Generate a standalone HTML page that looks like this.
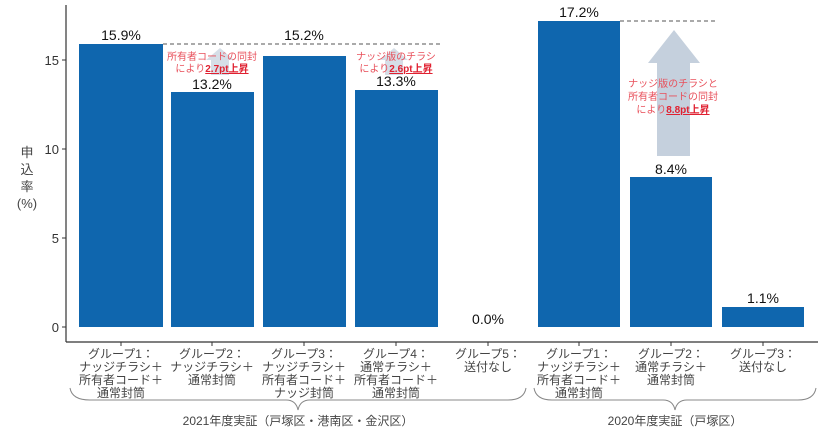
<!DOCTYPE html>
<html><head><meta charset="utf-8"><style>
body{margin:0;background:#fff;}
svg{display:block;font-family:"Liberation Sans","Noto Sans CJK JP",sans-serif;}
</style></head><body>
<svg width="824" height="428" viewBox="0 0 824 428">
<line x1="66" y1="5" x2="66" y2="342" stroke="#333" stroke-width="1.2"/>
<line x1="66" y1="342" x2="818" y2="342" stroke="#333" stroke-width="1.2"/>
<g stroke="#333"><line x1="62" y1="60" x2="66" y2="60"/><line x1="62" y1="149" x2="66" y2="149"/><line x1="62" y1="238" x2="66" y2="238"/><line x1="62" y1="327" x2="66" y2="327"/>
<line x1="121" y1="342" x2="121" y2="346"/><line x1="212" y1="342" x2="212" y2="346"/><line x1="304" y1="342" x2="304" y2="346"/><line x1="396" y1="342" x2="396" y2="346"/><line x1="488" y1="342" x2="488" y2="346"/><line x1="579" y1="342" x2="579" y2="346"/><line x1="671" y1="342" x2="671" y2="346"/><line x1="763" y1="342" x2="763" y2="346"/></g>
<g font-size="13" fill="#333" text-anchor="end"><text x="59" y="65">15</text><text x="59" y="154">10</text><text x="59" y="243">5</text><text x="59" y="332">0</text></g>
<g font-size="13" fill="#444" text-anchor="middle"><text x="27" y="157">申</text><text x="27" y="174">込</text><text x="27" y="191">率</text><text x="27" y="208">(%)</text></g>
<g fill="#c5d0dd" opacity="0.7"><polygon points="206,60 220,48 234,60 229,60 229,75 211,75 211,60"/><polygon points="380,60 394,48 408,60 403,60 403,75 385,75 385,60"/></g>
<polygon points="648,63 674,30 700,63 690,63 690,156 657,156 657,63" fill="#c5d0dd"/>
<g fill="#0f66ae">
<rect x="79" y="44" width="84" height="283"/>
<rect x="171" y="92" width="83" height="235"/>
<rect x="263" y="56" width="83" height="271"/>
<rect x="355" y="90" width="83" height="237"/>
<rect x="538" y="21" width="82" height="306"/>
<rect x="630" y="177" width="82" height="150"/>
<rect x="722" y="307" width="82" height="20"/>
</g>
<g stroke="#555" stroke-dasharray="4,3" stroke-width="1"><line x1="163" y1="44" x2="442" y2="44"/><line x1="620" y1="21" x2="715" y2="21"/></g>
<g font-size="14" fill="#111" text-anchor="middle">
<text x="121" y="40">15.9%</text><text x="212" y="89">13.2%</text><text x="304" y="40">15.2%</text><text x="396" y="86">13.3%</text><text x="488" y="324">0.0%</text>
<text x="579" y="17">17.2%</text><text x="671" y="174">8.4%</text><text x="763" y="303">1.1%</text></g>
<g font-size="10" fill="#e8505b" text-anchor="middle">
<text x="212" y="60">所有者コードの同封</text><text x="212" y="72">により<tspan font-weight="bold" text-decoration="underline" fill="#e02030">2.7pt上昇</tspan></text>
<text x="396" y="60">ナッジ版のチラシ</text><text x="396" y="72">により<tspan font-weight="bold" text-decoration="underline" fill="#e02030">2.6pt上昇</tspan></text>
<text x="673" y="87">ナッジ版のチラシと</text><text x="673" y="100">所有者コードの同封</text><text x="673" y="113">により<tspan font-weight="bold" text-decoration="underline" fill="#e02030">8.8pt上昇</tspan></text></g>
<g font-size="12" fill="#444" text-anchor="middle">
<text x="121" y="358">グループ1：</text><text x="121" y="371">ナッジチラシ＋</text><text x="121" y="384">所有者コード＋</text><text x="121" y="397">通常封筒</text>
<text x="212" y="358">グループ2：</text><text x="212" y="371">ナッジチラシ＋</text><text x="212" y="384">通常封筒</text>
<text x="304" y="358">グループ3：</text><text x="304" y="371">ナッジチラシ＋</text><text x="304" y="384">所有者コード＋</text><text x="304" y="397">ナッジ封筒</text>
<text x="396" y="358">グループ4：</text><text x="396" y="371">通常チラシ＋</text><text x="396" y="384">所有者コード＋</text><text x="396" y="397">通常封筒</text>
<text x="488" y="358">グループ5：</text><text x="488" y="371">送付なし</text>
<text x="579" y="358">グループ1：</text><text x="579" y="371">ナッジチラシ＋</text><text x="579" y="384">所有者コード＋</text><text x="579" y="397">通常封筒</text>
<text x="671" y="358">グループ2：</text><text x="671" y="371">通常チラシ＋</text><text x="671" y="384">通常封筒</text>
<text x="763" y="358">グループ3：</text><text x="763" y="371">送付なし</text>
<text x="298" y="425">2021年度実証（戸塚区・港南区・金沢区）</text>
<text x="675" y="425">2020年度実証（戸塚区）</text></g>
<g fill="none" stroke="#888" stroke-width="1">
<path d="M70,388 Q72,400 90,400 L286,400 Q296,400 298,410 Q300,400 310,400 L508,400 Q524,400 526,388"/>
<path d="M534,388 Q536,400 552,400 L663,400 Q673,400 675,410 Q677,400 687,400 L798,400 Q814,400 816,388"/>
</g>
</svg>
</body></html>
